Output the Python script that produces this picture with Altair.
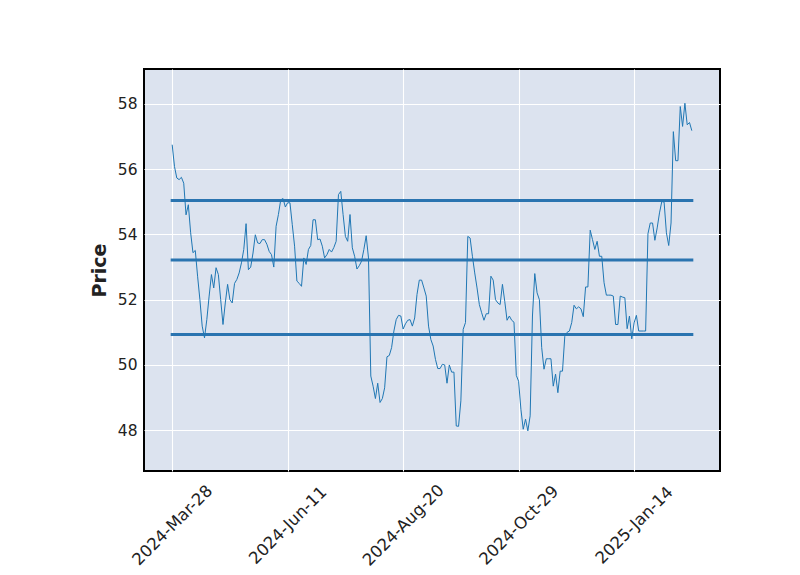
import altair as alt
import pandas as pd

# Closing prices, one per trading day (index 0 = 2024-03-28)
prices = [
    56.75, 56.08, 55.73, 55.68, 55.75, 55.57, 54.60, 54.91, 54.05, 53.44,
    53.51, 52.72, 52.00, 51.19, 50.83, 51.39, 52.11, 52.77, 52.36, 52.98,
    52.77, 52.00, 51.24, 51.90, 52.47, 52.00, 51.90, 52.50, 52.62, 52.82,
    53.13, 53.54, 54.33, 52.92, 53.00, 53.43, 53.99, 53.74, 53.72, 53.84,
    53.84, 53.70, 53.48, 53.38, 53.00, 54.25, 54.61, 55.06, 55.10, 54.84,
    54.97, 54.97, 54.30, 53.64, 52.57, 52.50, 52.41, 53.28, 53.08, 53.54,
    53.66, 54.45, 54.45, 53.84, 53.86, 53.64, 53.28, 53.38, 53.54, 53.46,
    53.60, 53.79, 55.22, 55.32, 54.61, 53.94, 53.79, 54.61, 53.59, 53.33,
    52.94, 53.04, 53.18, 53.54, 53.96, 53.28, 49.66, 49.35, 48.97, 49.44,
    48.85, 48.97, 49.30, 50.25, 50.29, 50.53, 51.04, 51.39, 51.52, 51.50,
    51.10, 51.26, 51.37, 51.39, 51.19, 51.44, 52.16, 52.60, 52.60, 52.36,
    52.11, 51.19, 50.78, 50.58, 50.17, 49.89, 49.89, 50.02, 50.00, 49.44,
    50.00, 49.78, 49.78, 48.13, 48.12, 48.90, 51.09, 51.30, 53.94, 53.89,
    53.33, 52.82, 52.36, 51.85, 51.60, 51.37, 51.57, 51.57, 52.72, 52.60,
    52.00, 51.90, 51.85, 52.47, 51.95, 51.37, 51.50, 51.37, 51.31, 49.68,
    49.50, 48.64, 48.03, 48.34, 47.98, 48.44, 51.50, 52.80, 52.21, 52.00,
    50.53, 49.87, 50.19, 50.19, 50.19, 49.35, 49.72, 49.15, 49.81, 49.81,
    50.88, 51.00, 51.04, 51.30, 51.83, 51.72, 51.78, 51.72, 51.48, 52.39,
    52.39, 54.13, 53.84, 53.54, 53.79, 53.33, 53.33, 52.52, 52.14, 52.14,
    52.14, 52.11, 51.24, 51.24, 52.11, 52.08, 52.06, 51.11, 51.50, 50.80,
    51.29, 51.52, 51.04, 51.04, 51.04, 51.04, 54.02, 54.35, 54.35, 53.82,
    54.20, 54.66, 55.01, 54.99, 54.05, 53.66, 54.35, 57.15, 56.26, 56.26,
    57.92, 57.31, 58.02, 57.36, 57.43, 57.18,
]

# Horizontal reference levels
hline_levels = [55.04, 53.22, 50.93]

# X tick positions (trading-day index) and their date labels
tick_positions = [0, 50, 100, 150, 200]
tick_labels = ["2024-Mar-28", "2024-Jun-11", "2024-Aug-20", "2024-Oct-29", "2025-Jan-14"]

y_ticks = [48, 50, 52, 54, 56, 58]

n = len(prices)
df = pd.DataFrame({"idx": list(range(n)), "price": prices})
hl = pd.DataFrame({"level": hline_levels, "x0": [0] * len(hline_levels), "x1": [n - 1] * len(hline_levels)})

label_map = "{" + ",".join(f"'{p}':'{l}'" for p, l in zip(tick_positions, tick_labels)) + "}"
label_expr = f"{label_map}[datum.value] || ''"

x_dom = [-12.2, 237.2]
y_dom = [46.75, 59.07]

x_scale = alt.Scale(domain=x_dom, nice=False, zero=False)
y_scale = alt.Scale(domain=y_dom, nice=False, zero=False)

x_axis = alt.Axis(
    values=tick_positions,
    labelExpr=label_expr,
    labelAngle=315,
    labelAlign="center",
    labelBaseline="middle",
    labelPadding=54,
    labelFontSize=16.5,
    labelColor="#222222",
    labelFont="DejaVu Sans",
    labelOverlap=False,
    labelFlush=False,
    ticks=False,
    domain=False,
    grid=True,
    gridColor="white",
    gridWidth=1.1,
    title=None,
)

y_axis = alt.Axis(
    values=y_ticks,
    labelFontSize=15.5,
    labelColor="#222222",
    labelFont="DejaVu Sans",
    labelPadding=7,
    ticks=False,
    domain=False,
    grid=True,
    gridColor="white",
    gridWidth=1.1,
    title="Price",
    titleFont="DejaVu Sans",
    titleFontSize=19,
    titleFontWeight="bold",
    titleColor="#222222",
    titlePadding=8,
)

line = alt.Chart(df).mark_line(color="#1f77b4", strokeWidth=1.0, clip=True).encode(
    x=alt.X("idx:Q", scale=x_scale, axis=x_axis),
    y=alt.Y("price:Q", scale=y_scale, axis=y_axis),
)

rules = alt.Chart(hl).mark_rule(color="#2a74b0", strokeWidth=3, strokeCap="square").encode(
    x=alt.X("x0:Q", scale=x_scale),
    x2="x1:Q",
    y=alt.Y("level:Q", scale=y_scale),
)

chart = (
    alt.layer(rules, line)
    .properties(
        width=576,
        height=402,
        background="white",
        padding={"left": 144, "top": 69, "right": 80, "bottom": 104},
        autosize=alt.AutoSizeParams(type="none"),
    )
    .configure_view(fill="#DCE3EF", stroke="black", strokeWidth=2)
)

chart.save("out.html", embed_options={"renderer": "svg", "actions": False})
